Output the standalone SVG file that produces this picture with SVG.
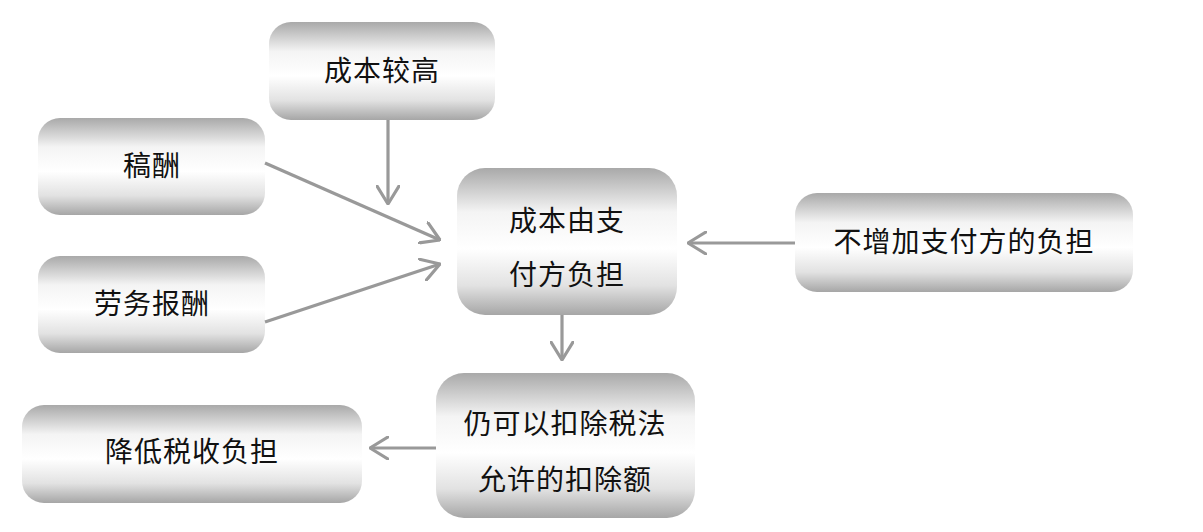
<svg xmlns="http://www.w3.org/2000/svg" width="1203" height="532" viewBox="0 0 1203 532">
<defs>
<linearGradient id="g" x1="0" y1="0" x2="0" y2="1">
<stop offset="0" stop-color="#a9a9a9"/>
<stop offset="0.3" stop-color="#f4f4f4"/>
<stop offset="0.55" stop-color="#ffffff"/>
<stop offset="0.8" stop-color="#e2e2e2"/>
<stop offset="1" stop-color="#a6a6a6"/>
</linearGradient>
<marker id="ah" viewBox="0 0 20 24" refX="19" refY="12" markerWidth="20" markerHeight="24" markerUnits="userSpaceOnUse" orient="auto">
<path d="M1,1 L19,12 L1,23" fill="none" stroke="#999999" stroke-width="3.2" stroke-linecap="round" stroke-linejoin="round"/>
</marker>
</defs>
<style>
rect.n{fill:url(#g);}
text{font-family:"Liberation Serif","Noto Sans CJK SC",serif;font-size:28px;fill:#111;text-anchor:middle;dominant-baseline:central;letter-spacing:1px;}
.c line{stroke:#999999;stroke-width:3.2;marker-end:url(#ah);}
</style>
<rect width="1203" height="532" fill="#ffffff"/>
<g id="n1"><rect class="n" x="269" y="22" width="226" height="98" rx="22"/><text x="382" y="71">成本较高</text></g>
<g id="n2"><rect class="n" x="38" y="118" width="227" height="97" rx="22"/><text x="152" y="166">稿酬</text></g>
<g id="n3"><rect class="n" x="38" y="256" width="227" height="97" rx="22"/><text x="152" y="304">劳务报酬</text></g>
<g id="n4"><rect class="n" x="457" y="168" width="220" height="147" rx="28"/><text x="567" y="221">成本由支</text><text x="567" y="275">付方负担</text></g>
<g id="n5"><rect class="n" x="795" y="193" width="338" height="99" rx="22"/><text x="964" y="242">不增加支付方的负担</text></g>
<g id="n6"><rect class="n" x="436" y="373" width="259" height="145" rx="28"/><text x="565" y="424">仍可以扣除税法</text><text x="565" y="480">允许的扣除额</text></g>
<g id="n7"><rect class="n" x="22" y="405" width="340" height="98" rx="22"/><text x="192" y="452">降低税收负担</text></g>
<g class="c" id="connectors">
<line x1="388" y1="120" x2="388" y2="204"/>
<line x1="265" y1="163" x2="440" y2="240"/>
<line x1="265" y1="322" x2="440" y2="264"/>
<line x1="795" y1="243" x2="688" y2="243"/>
<line x1="562" y1="315" x2="562" y2="360"/>
<line x1="436" y1="448" x2="370" y2="448"/>
</g>
</svg>
